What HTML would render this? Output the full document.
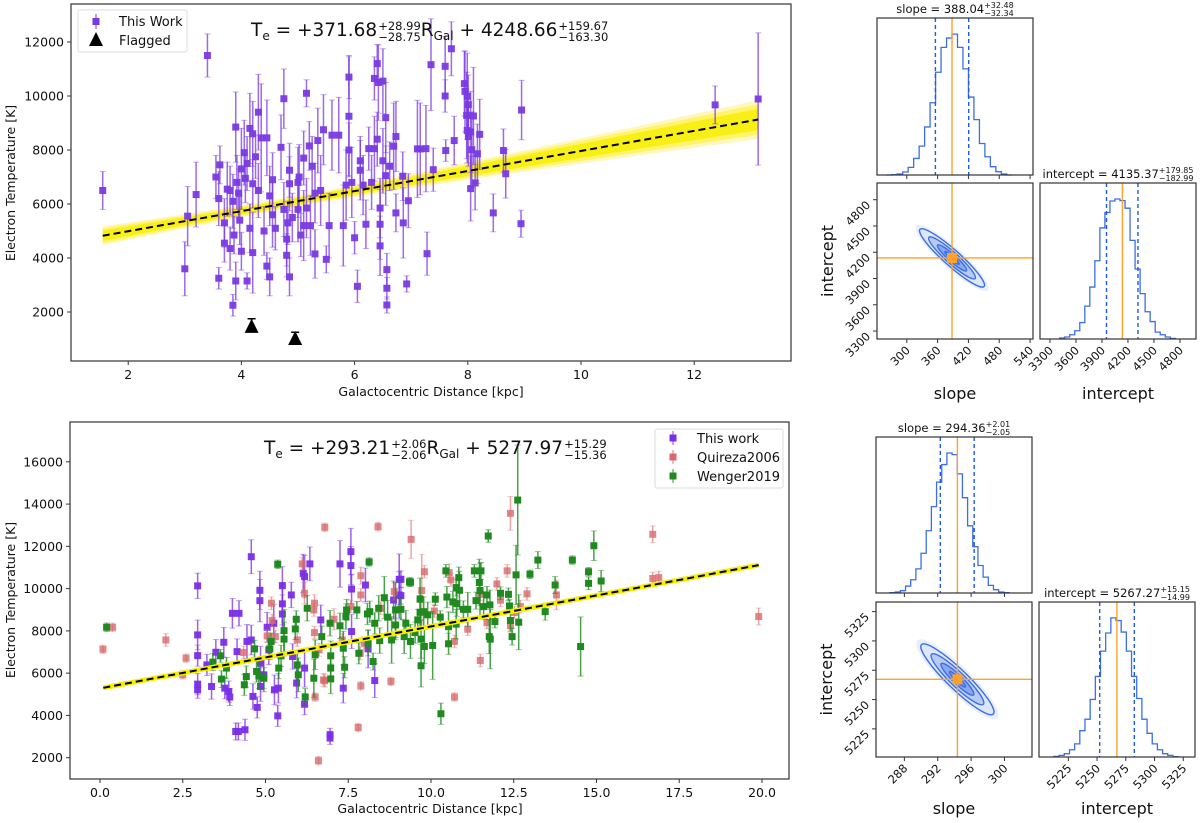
<!DOCTYPE html>
<html><head><meta charset="utf-8"><style>
html,body{margin:0;padding:0;background:#fff;}
body{width:1200px;height:823px;position:relative;overflow:hidden;font-family:"Liberation Sans","DejaVu Sans",sans-serif;}
svg{position:absolute;left:0;top:0;}
text{font-family:"DejaVu Sans","Liberation Sans",sans-serif;fill:#111;}
.eq{position:absolute;font-family:"DejaVu Sans","Liberation Sans",sans-serif;font-size:18.5px;white-space:nowrap;color:#111;}
.eq sub{font-size:12px;vertical-align:-4px;line-height:0;}
.ss{display:inline-block;font-size:11.5px;line-height:11px;vertical-align:-5px;margin-left:1px;}
.ss span{display:block;}
</style></head><body>
<svg id="fig" width="1200" height="823" viewBox="0 0 1200 823" xmlns="http://www.w3.org/2000/svg"></svg>
<div class="eq" style="left:251px;top:20px;">T<sub>e</sub> = +371.68<span class="ss"><span>+28.99</span><span>−28.75</span></span>R<sub>Gal</sub> + 4248.66<span class="ss"><span>+159.67</span><span>−163.30</span></span></div>
<div class="eq" style="left:264px;top:438px;">T<sub>e</sub> = +293.21<span class="ss"><span>+2.06</span><span>−2.06</span></span>R<sub>Gal</sub> + 5277.97<span class="ss"><span>+15.29</span><span>−15.36</span></span></div>
<script>
// ---------- DATA ----------
const topWork = [
[1.55,6500,700],[3.0,3600,1000],[3.05,5550,1100],[3.2,6350,1200],[3.4,11500,800],[3.55,7000,800],[3.6,6200,1000],[3.62,7450,700],[3.6,3250,400],[3.7,5300,900],[3.7,4550,700],[3.75,6550,1000],[3.8,6500,900],[3.8,4350,800],[3.85,6100,1000],[3.87,4850,700],[3.85,2250,400],[3.9,3150,700],[3.9,8850,1300],[3.92,6800,1000],[3.95,6400,900],[3.97,5400,900],[4.0,4250,700],[4.0,7300,1500],[4.05,7900,1200],[4.07,6950,900],[4.1,7500,1000],[4.1,3150,300],[4.15,5100,900],[4.15,8800,1300],[4.2,8600,1200],[4.2,6750,900],[4.2,4200,1500],[4.25,7750,800],[4.3,9400,1400],[4.3,6500,1000],[4.35,8450,2000],[4.4,5000,900],[4.45,3700,500],[4.45,8450,1400],[4.5,3300,700],[4.5,6300,1100],[4.55,6900,1000],[4.55,5600,1200],[4.6,5100,800],[4.7,8100,1200],[4.75,9900,1100],[4.75,5800,1000],[4.8,4700,1000],[4.8,4100,800],[4.82,5300,800],[4.85,6750,1000],[4.85,3300,700],[4.85,7250,1000],[4.9,5500,900],[5.0,5800,1200],[5.0,6800,1300],[5.02,7000,1200],[5.05,4850,800],[5.1,5200,1300],[5.1,7700,1000],[5.15,5850,1100],[5.15,10100,500],[5.2,8150,900],[5.22,5200,1100],[5.25,7400,1100],[5.3,6400,1100],[5.3,4150,900],[5.35,8350,1200],[5.4,6500,1300],[5.45,8750,1300],[5.5,3950,500],[5.55,5200,1200],[5.6,8550,1300],[5.72,8550,1400],[5.8,5200,1500],[5.85,6700,1300],[5.9,9250,2200],[5.9,10700,800],[5.9,8000,1000],[5.95,6800,1300],[6.0,4750,600],[6.05,2950,600],[6.1,7600,900],[6.1,7250,1100],[6.15,6700,1100],[6.2,5250,900],[6.25,8050,800],[6.3,6800,1000],[6.35,8050,1200],[6.35,10650,800],[6.4,11200,700],[6.4,8400,1000],[6.42,10500,1400],[6.45,5850,1100],[6.45,5250,1300],[6.45,4450,1100],[6.5,10550,1200],[6.5,7600,1200],[6.55,7050,1100],[6.55,9200,1300],[6.57,3570,600],[6.57,2880,400],[6.57,2260,300],[6.62,7400,900],[6.69,8140,1600],[6.73,8500,1300],[6.73,5670,700],[6.86,5300,1300],[6.85,7030,900],[6.95,6120,1000],[6.92,3040,300],[7.11,8040,1800],[7.16,8040,1700],[7.26,8050,1600],[7.28,4160,800],[7.35,11160,1700],[7.39,7270,800],[7.6,11100,1100],[7.6,10000,600],[7.61,7980,400],[7.71,11750,1000],[7.76,8350,900],[7.94,10460,1200],[7.95,10170,1500],[7.99,9990,1600],[8.01,9680,1100],[7.98,9280,1600],[8.1,9260,1800],[7.99,8720,1200],[8.05,8670,1500],[8.01,8500,1100],[8.07,8010,1400],[8.17,7860,1100],[8.21,8580,1300],[8.13,6780,1000],[8.05,6570,1200],[8.45,5670,700],[8.63,7980,800],[8.67,7120,900],[8.95,9480,1100],[8.94,5270,500],[12.37,9670,700],[13.13,9890,2450]
];
const topFlagged = [[4.18,1450,300],[4.95,1000,250]];
const topFit = {slope:371.68, intercept:4248.66, sSlope:29, sInt:160, rho:-0.9, xmin:1.55, xmax:13.13};
const topXTicks = [2,4,6,8,10,12];
const topYTicks = [2000,4000,6000,8000,10000,12000];

const botWork = [
[2.95,10130,600],[2.95,7810,700],[2.95,6830,500],[2.95,5480,500],[2.95,5210,400],[3.23,6390,500],[3.37,5370,600],[3.5,6990,600],[3.74,7460,700],[3.77,5290,500],[3.89,5130,500],[3.92,4870,400],[4.0,8830,700],[4.2,8830,600],[4.1,3240,400],[4.18,3240,400],[4.38,3320,500],[4.14,7020,600],[4.44,7500,800],[4.57,11510,800],[4.57,7570,700],[4.62,4900,600],[4.75,4380,500],[4.83,9920,900],[4.83,9430,1000],[4.85,6470,800],[4.85,5370,700],[4.95,5920,800],[5.05,8170,700],[5.1,7100,700],[5.25,8360,900],[5.27,5210,700],[5.37,3980,500],[5.39,5290,700],[5.51,10140,900],[5.51,9280,1000],[5.51,8800,900],[5.78,9700,600],[5.82,6790,600],[5.94,5530,700],[6.14,10720,900],[6.18,10570,1000],[6.18,4530,500],[6.34,11170,800],[6.18,6240,900],[6.67,8520,700],[6.95,2930,300],[6.95,3090,300],[7.25,11170,1100],[7.58,11750,1100],[7.58,11090,900],[7.6,9980,700],[7.6,7970,800],[7.35,5290,700],[8.02,10170,800],[8.1,7150,900],[8.3,5650,800],[9.04,10440,1200],[9.04,9700,1100],[8.87,9460,900],[9.09,10440,400],[9.09,9670,400]
];
const botQuireza = [
[0.09,7130,200],[0.38,8170,200],[1.99,7570,300],[2.6,6710,200],[2.5,5920,200],[6.79,12900,200],[8.4,12930,200],[9.4,12330,900],[6.6,1860,200],[7.8,3430,200],[6.11,11170,300],[6.18,9780,500],[6.48,9310,400],[6.46,8990,300],[5.18,9310,300],[5.2,8490,300],[6.48,7920,300],[6.75,5680,300],[6.79,5640,300],[6.5,4870,200],[7.88,5400,200],[8.79,5610,200],[7.88,10610,400],[7.88,9700,300],[7.58,9150,300],[7.86,6940,300],[7.98,7420,300],[6.62,7100,300],[5.05,7760,300],[5.3,7730,300],[4.34,6980,300],[5.96,7570,300],[7.32,7570,300],[7.07,8550,500],[8.89,9860,400],[8.48,9070,300],[9.72,9910,1700],[9.8,10800,300],[10.1,8940,300],[10.55,10760,400],[10.6,10410,300],[10.71,7500,300],[10.71,4870,200],[11.11,8080,300],[11.49,6600,300],[11.49,9730,300],[11.69,8390,300],[11.99,10220,300],[12.1,9450,300],[12.3,10840,300],[12.4,13560,800],[12.4,8240,300],[12.52,8870,300],[12.7,9150,300],[12.9,9750,300],[13.79,9700,700],[16.7,12570,400],[16.7,10480,300],[16.88,10520,300],[19.9,8680,400]
];
const botWenger = [
[0.2,8170,200],[5.37,11150,200],[8.13,11260,200],[9.35,10320,200],[5.56,8010,1000],[5.56,7610,800],[5.9,8090,500],[5.93,8550,400],[5.96,6390,700],[5.99,5920,800],[6.2,4870,400],[6.26,9070,600],[6.46,5760,900],[6.5,6870,700],[6.7,7730,500],[6.95,8360,600],[6.97,6820,700],[6.97,6240,600],[6.97,5730,700],[7.25,8240,600],[7.35,7180,800],[7.39,6280,500],[7.43,8680,600],[7.45,8990,500],[7.76,8990,400],[7.82,6940,500],[8.1,7420,600],[8.08,8800,500],[8.15,8910,500],[8.25,6550,400],[8.42,9070,600],[8.45,7540,600],[8.3,8360,500],[8.59,9570,1000],[8.69,8650,800],[8.81,7570,1100],[8.93,8990,1300],[8.93,8280,700],[3.41,6520,400],[3.64,6820,300],[3.67,5720,400],[3.82,6240,500],[4.36,5450,500],[4.42,5840,500],[4.67,7150,400],[4.73,6080,500],[4.8,5870,600],[4.95,5760,500],[5.13,7150,500],[5.17,7500,400],[5.4,6240,500],[5.47,6820,500],
[9.09,9020,500],[9.38,10300,200],[9.24,8360,600],[9.19,7730,800],[9.38,7500,800],[9.52,7920,500],[9.6,8520,500],[9.67,9500,1000],[9.67,8880,800],[9.7,7610,900],[9.7,6350,1000],[9.78,8910,700],[9.8,7260,800],[9.9,8760,600],[10.05,7310,1600],[10.13,9500,300],[10.28,8650,300],[10.3,4080,500],[10.45,10840,300],[10.48,9600,500],[10.53,7390,500],[10.53,8200,700],[10.66,9370,500],[10.76,10050,400],[10.84,10520,500],[10.86,9920,900],[10.78,9290,600],[10.76,8320,700],[10.98,9020,400],[11.11,9020,800],[11.31,10840,300],[11.36,9430,400],[11.46,10290,1100],[11.48,9910,1300],[11.51,10840,400],[11.59,9150,600],[11.69,9700,400],[11.76,7730,800],[11.79,7610,1400],[11.73,12490,300],[11.78,9230,700],[11.93,8440,300],[12.1,9780,300],[12.34,9730,300],[12.37,9180,300],[12.4,8490,500],[12.45,7730,400],[12.57,10650,1400],[12.62,14190,2600],[12.65,8410,1300],[12.99,10680,200],[13.23,11350,400],[13.45,8910,400],[13.75,10170,400],[14.27,11350,200],[14.52,7260,1400],[14.76,10800,200],[14.76,10250,300],[14.92,12030,700],[15.14,10360,500]
];
const botFit = {slope:293.21, intercept:5277.97, xmin:0.1, xmax:19.9};
const botXTicks = [0,2.5,5,7.5,10,12.5,15,17.5,20];
const botYTicks = [2000,4000,6000,8000,10000,12000,14000,16000];

const slopeEdgeTop = [260, 10.67];
const slopeCountsTop = [0,1,3,9,23,50,87,145,218,310,385,413,425,385,320,235,167,95,55,25,10,3,0];
const intEdgeTop = [3412, 58];
const intCountsTop = [3,6,13,25,50,100,158,238,338,385,420,426,421,398,300,213,138,83,53,21,13,6,2];
const slopeQTop = [355.70, 388.04, 420.52];
const intQTop = [3952.38, 4135.37, 4315.22];
const slopeTicksTop = [300,360,420,480,540];
const intTicksTop = [3300,3600,3900,4200,4500,4800];

const slopeEdgeBot = [286.28, 0.62];
const slopeCountsBot = [1,3,7,21,40,73,120,188,261,335,388,423,418,360,288,203,140,83,48,23,10,3,1];
const intEdgeBot = [5212.5, 4.5];
const intCountsBot = [2,5,10,22,40,80,115,175,245,322,377,423,415,380,322,245,178,115,72,40,22,10,5,1];
const slopeQBot = [292.31, 294.36, 296.37];
const intQBot = [5252.28, 5267.27, 5282.42];
const slopeTicksBot = [288,292,296,300];
const intTicksBot = [5225,5250,5275,5300,5325];

// ---------- DRAWING ----------
const NS = "http://www.w3.org/2000/svg";
const svg = document.getElementById('fig');
function mk(tag, at, parent){ const e=document.createElementNS(NS,tag); for(const k in at) e.setAttribute(k,at[k]); (parent||svg).appendChild(e); return e; }
function txt(s, at, parent){ const e=mk('text',at,parent); e.textContent=s; return e; }
function lin(a0,a1,p0,p1){ return v => p0 + (v-a0)*(p1-p0)/(a1-a0); }

function scatter(g, pts, color, X, Y, alpha, name){
  pts.forEach(p=>{
    const x=X(p[0]), y=Y(p[1]), yl=Y(p[1]-p[2]), yh=Y(p[1]+p[2]);
    const gg=mk('g',{},g);
    
    
    mk('line',{x1:x,x2:x,y1:yl,y2:yh,stroke:color,'stroke-width':1.5,'stroke-opacity':alpha},gg);
    mk('line',{x1:x-3,x2:x+3,y1:yl,y2:yl,stroke:color,'stroke-width':1,'stroke-opacity':alpha*0.6},gg);
    mk('line',{x1:x-3,x2:x+3,y1:yh,y2:yh,stroke:color,'stroke-width':1,'stroke-opacity':alpha*0.6},gg);
    mk('rect',{x:x-3.5,y:y-3.5,width:7,height:7,fill:color,'fill-opacity':Math.min(1,alpha+0.2)},gg);
  });
}

function axesFrame(x0,y0,x1,y1,name){
  const r=mk('rect',{x:x0,y:y0,width:x1-x0,height:y1-y0,fill:'none',stroke:'#333','stroke-width':1.2});
  
  
}
function xTicks(ticks,X,y1,fmt,fs,name){
  ticks.forEach(t=>{ const x=X(t);
    mk('line',{x1:x,x2:x,y1:y1,y2:y1+4,stroke:'#333','stroke-width':1});
    const e=txt(fmt(t),{x:x,y:y1+18,'text-anchor':'middle','font-size':fs});
    
    
  });
}
function yTicks(ticks,Y,x0,fs,name){
  ticks.forEach(t=>{ const y=Y(t);
    mk('line',{x1:x0-4,x2:x0,y1:y,y2:y,stroke:'#333','stroke-width':1});
    const e=txt(String(t),{x:x0-7,y:y+4.5,'text-anchor':'end','font-size':fs});
    
    
  });
}

// ===== TOP MAIN =====
(function(){
  const x0=71,x1=791,y0=4,y1=361;
  const X=lin(2,12,128.2,694.2), Y=lin(2000,12000,312,42);
  const g=mk('g',{});
  
  
  const f=topFit, N=60;
  function band(k,fill,op){
    let up=[],dn=[];
    for(let i=0;i<=N;i++){ const x=f.xmin+(f.xmax-f.xmin)*i/N;
      const s=Math.sqrt(f.sSlope*f.sSlope*x*x+f.sInt*f.sInt+2*f.rho*f.sSlope*f.sInt*x);
      const m=f.slope*x+f.intercept; up.push(X(x)+','+Y(m+k*s)); dn.unshift(X(x)+','+Y(m-k*s)); }
    const p=mk('polygon',{points:up.concat(dn).join(' '),fill:fill,'fill-opacity':op},g);
    
    
  }
  band(2.9,'#fff27a',0.5); band(2.3,'#fff24a',0.7); band(1.6,'#f8ef10',0.95);
  scatter(g, topWork, '#7a3ae0', X, Y, 0.75, 'this-work-point');
  topFlagged.forEach(p=>{ const x=X(p[0]),y=Y(p[1]),yh=Y(p[1]+p[2]);
    const t=mk('g',{},g);
    
    
    mk('line',{x1:x,x2:x,y1:yh,y2:y,stroke:'#000','stroke-width':1.5},t);
    mk('line',{x1:x-4,x2:x+4,y1:yh,y2:yh,stroke:'#000','stroke-width':1.5},t);
    mk('polygon',{points:`${x},${y-8} ${x-7},${y+6} ${x+7},${y+6}`,fill:'#000'},t);
  });
  const ln=mk('line',{x1:X(f.xmin),y1:Y(f.slope*f.xmin+f.intercept),x2:X(f.xmax),y2:Y(f.slope*f.xmax+f.intercept),stroke:'#000','stroke-width':2,'stroke-dasharray':'7,4'},g);
  
  
  axesFrame(x0,y0,x1,y1,'top-axes-frame');
  xTicks(topXTicks,X,y1,t=>String(t),12.5,'x-tick-label');
  yTicks(topYTicks,Y,x0,12.5,'y-tick-label');
  let e=txt('Galactocentric Distance [kpc]',{x:431,y:396,'text-anchor':'middle','font-size':12.5});
  
  
  e=txt('Electron Temperature [K]',{x:0,y:0,'text-anchor':'middle','font-size':12.5,transform:'translate(15,183) rotate(-90)'});
  
  
  const lg=mk('g',{});
  
  
  mk('rect',{x:78,y:10,width:109,height:42,fill:'#fff','fill-opacity':0.8,stroke:'#ddd','stroke-width':1,rx:2},lg);
  mk('line',{x1:96,x2:96,y1:14,y2:29,stroke:'#7a3ae0','stroke-width':1.5,'stroke-opacity':0.7},lg);
  mk('rect',{x:92.5,y:18,width:7,height:7,fill:'#7a3ae0'},lg);
  let le=txt('This Work',{x:119,y:26,'font-size':13},lg);
  
  
  mk('polygon',{points:'96,32 89,46 103,46',fill:'#000'},lg);
  le=txt('Flagged',{x:119,y:45,'font-size':13},lg);
  
  
})();

// ===== BOTTOM MAIN =====
(function(){
  const x0=70,x1=789,y0=422,y1=779;
  const X=lin(0,20,100,762), Y=lin(2000,16000,757.7,461.8);
  const g=mk('g',{});
  
  
  scatter(g, botWork, '#7a2ee6', X, Y, 0.75, 'this-work-point');
  scatter(g, botQuireza, '#d86a6c', X, Y, 0.6, 'quireza2006-point');
  scatter(g, botWenger, '#1f8a1f', X, Y, 0.8, 'wenger2019-point');
  const f=botFit;
  const a={x1:X(f.xmin),y1:Y(f.slope*f.xmin+f.intercept),x2:X(f.xmax),y2:Y(f.slope*f.xmax+f.intercept)};
  const yl=mk('line',Object.assign({stroke:'#f5ee00','stroke-width':5},a),g);
  
  
  const ln=mk('line',Object.assign({stroke:'#000','stroke-width':2,'stroke-dasharray':'7,4'},a),g);
  
  
  axesFrame(x0,y0,x1,y1,'bottom-axes-frame');
  xTicks(botXTicks,X,y1,t=>t.toFixed(1),12.5,'x-tick-label');
  yTicks(botYTicks,Y,x0,12.5,'y-tick-label');
  let e=txt('Galactocentric Distance [kpc]',{x:430,y:813,'text-anchor':'middle','font-size':12.5});
  
  
  e=txt('Electron Temperature [K]',{x:0,y:0,'text-anchor':'middle','font-size':12.5,transform:'translate(15,600) rotate(-90)'});
  
  
  const lg=mk('g',{});
  
  
  mk('rect',{x:655,y:429,width:128,height:59,fill:'#fff','fill-opacity':0.8,stroke:'#ddd','stroke-width':1,rx:2},lg);
  [['This work','#7a2ee6',438],['Quireza2006','#d86a6c',457],['Wenger2019','#1f8a1f',476]].forEach(r=>{
    mk('line',{x1:673,x2:673,y1:r[2]-7,y2:r[2]+7,stroke:r[1],'stroke-width':1.5,'stroke-opacity':0.6},lg);
    mk('rect',{x:669.5,y:r[2]-3.5,width:7,height:7,fill:r[1]},lg);
    const t=txt(r[0],{x:697,y:r[2]+5,'font-size':13},lg);
    
    
  });
})();

// ===== CORNER =====
function corner(c){
  const blue='#3b6fe3', dblue='#1f5ae6', orange='#ffa12b';
  const SX=lin(c.sRange[0],c.sRange[1],c.lx0,c.lx1);
  const IY=lin(c.iRange[0],c.iRange[1],c.by1,c.by0);
  const IX=lin(c.iRange2[0],c.iRange2[1],c.rx0,c.rx1);
  function hist(counts,edge,pos,x0,x1,y0,y1,name){
    const mx=Math.max.apply(null,counts)*1.1;
    const H=v=>y1-(v/mx)*(y1-y0-2);
    let d='M'+pos(edge[0])+','+y1;
    counts.forEach((v,i)=>{ const a=pos(edge[0]+i*edge[1]), b=pos(edge[0]+(i+1)*edge[1]); d+=` L${a},${H(v)} L${b},${H(v)}`; });
    d+=' L'+pos(edge[0]+counts.length*edge[1])+','+y1;
    const p=mk('path',{d:d,fill:'none',stroke:blue,'stroke-width':1.3});
    
    
  }
  function qlines(q,pos,y0,y1){
    [0,2].forEach(i=>mk('line',{x1:pos(q[i]),x2:pos(q[i]),y1:y0,y2:y1,stroke:dblue,'stroke-width':1.4,'stroke-dasharray':'4,3'}));
    mk('line',{x1:pos(q[1]),x2:pos(q[1]),y1:y0,y2:y1,stroke:orange,'stroke-width':1.4});
  }
  hist(c.sCounts,c.sEdge,SX,c.lx0,c.lx1,c.ty0,c.ty1,'slope-histogram');
  qlines(c.sQ,SX,c.ty0,c.ty1);
  axesFrame(c.lx0,c.ty0,c.lx1,c.ty1,'slope-hist-frame');
  c.sTicks.forEach(t=>mk('line',{x1:SX(t),x2:SX(t),y1:c.ty1,y2:c.ty1+4,stroke:'#333'}));
  const cx=SX(c.sQ[1]), cy=IY(c.iQ[1]);
  const eg=mk('g',{transform:`translate(${cx},${cy}) rotate(${c.ang})`});
  
  
  mk('ellipse',{cx:0,cy:0,rx:c.a*1.12,ry:c.b*1.3,fill:'#e8eefc'},eg);
  [[1,'#dde6fb'],[0.72,'#b8caf3'],[0.45,'#8aa7ee'],[0.22,'#6d90ea']].forEach(l=>{
    mk('ellipse',{cx:0,cy:0,rx:c.a*l[0],ry:c.b*l[0],fill:l[1],stroke:blue,'stroke-width':1.4},eg);
  });
  mk('line',{x1:cx,x2:cx,y1:c.by0,y2:c.by1,stroke:orange,'stroke-width':1.4});
  mk('line',{x1:c.lx0,x2:c.lx1,y1:cy,y2:cy,stroke:orange,'stroke-width':1.4});
  mk('rect',{x:cx-5,y:cy-5,width:10,height:10,fill:orange});
  axesFrame(c.lx0,c.by0,c.lx1,c.by1,'posterior-2d-frame');
  c.sTicks.forEach(t=>{ const x=SX(t);
    mk('line',{x1:x,x2:x,y1:c.by1,y2:c.by1+4,stroke:'#333'});
    const l=txt(String(t),{x:x+4,y:c.by1+12,'text-anchor':'end','font-size':11.5,transform:`rotate(-45 ${x+4} ${c.by1+12})`});
    
    
  });
  c.iTicks.forEach(t=>{ const y=IY(t);
    mk('line',{x1:c.lx0-4,x2:c.lx0,y1:y,y2:y,stroke:'#333'});
    const l=txt(String(t),{x:c.lx0-6,y:y+6,'text-anchor':'end','font-size':11.5,transform:`rotate(-45 ${c.lx0-6} ${y+6})`});
    
    
  });
  hist(c.iCounts,c.iEdge,IX,c.rx0,c.rx1,c.by0,c.by1,'intercept-histogram');
  qlines(c.iQ,IX,c.by0,c.by1);
  axesFrame(c.rx0,c.by0,c.rx1,c.by1,'intercept-hist-frame');
  c.iTicks2.forEach(t=>{ const x=IX(t);
    mk('line',{x1:x,x2:x,y1:c.by1,y2:c.by1+4,stroke:'#333'});
    const l=txt(String(t),{x:x+4,y:c.by1+12,'text-anchor':'end','font-size':11.5,transform:`rotate(-45 ${x+4} ${c.by1+12})`});
    
    
  });
  let e=txt('slope',{x:(c.lx0+c.lx1)/2,y:c.lab,'text-anchor':'middle','font-size':16});
  
  
  e=txt('intercept',{x:(c.rx0+c.rx1)/2,y:c.lab,'text-anchor':'middle','font-size':16});
  
  
  e=txt('intercept',{x:0,y:0,'text-anchor':'middle','font-size':16,transform:`translate(${c.lx0-44},${(c.by0+c.by1)/2}) rotate(-90)`});
  
  
}

function titleWithErr(base, up, dn, xc, y, name){
  const g=mk('g',{});
  
  
  const t=txt(base,{x:0,y:y,'font-size':11.5},g);
  const w=t.getComputedTextLength();
  const u=txt(up,{x:0,y:y-5,'font-size':8},g), d=txt(dn,{x:0,y:y+3,'font-size':8},g);
  const w2=Math.max(u.getComputedTextLength(),d.getComputedTextLength());
  const x0=xc-(w+w2)/2;
  t.setAttribute('x',x0); u.setAttribute('x',x0+w); d.setAttribute('x',x0+w);
}

function cornerFull(c){
  corner(c);
  titleWithErr(c.st[0],c.st[1],c.st[2],(c.lx0+c.lx1)/2,c.ty0-5,'slope-title');
  titleWithErr(c.it[0],c.it[1],c.it[2],(c.rx0+c.rx1)/2,c.by0-5,'intercept-title');
}

cornerFull({lx0:877,lx1:1033,ty0:18,ty1:175,by0:183,by1:339,rx0:1040,rx1:1196,
  sRange:[242,545.7],iRange:[3209,4991],iRange2:[3185,4985],
  sCounts:slopeCountsTop,sEdge:slopeEdgeTop,iCounts:intCountsTop,iEdge:intEdgeTop,
  sQ:slopeQTop,iQ:intQTop,sTicks:slopeTicksTop,iTicks:intTicksTop,iTicks2:intTicksTop,
  ang:41.7,a:43,b:8,lab:399,
  st:['slope = 388.04','+32.48','−32.34'],it:['intercept = 4135.37','+179.85','−182.99']});
cornerFull({lx0:876,lx1:1032,ty0:437,ty1:593,by0:602,by1:757,rx0:1039,rx1:1195,
  sRange:[284.6,303.3],iRange:[5201,5333.2],iRange2:[5199.5,5335.2],
  sCounts:slopeCountsBot,sEdge:slopeEdgeBot,iCounts:intCountsBot,iEdge:intEdgeBot,
  sQ:slopeQBot,iQ:intQBot,sTicks:slopeTicksBot,iTicks:intTicksBot,iTicks2:intTicksBot,
  ang:44,a:50,b:10,lab:814,
  st:['slope = 294.36','+2.01','−2.05'],it:['intercept = 5267.27','+15.15','−14.99']});
</script>
</body></html>
